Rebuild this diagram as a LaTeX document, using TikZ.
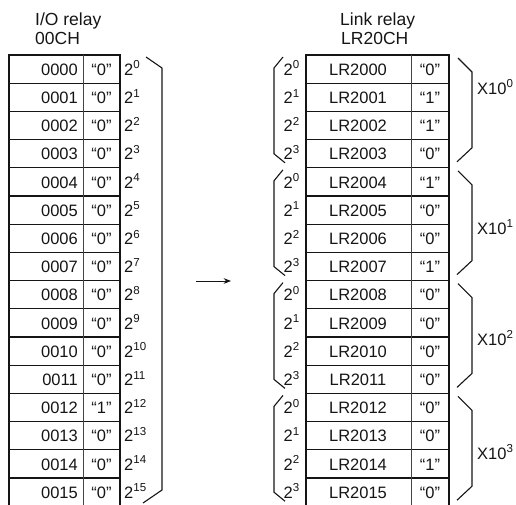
\documentclass[tikz,border=0pt]{standalone}
\usepackage{fontspec}
\setmainfont{Liberation Sans}
\usepackage{tikz}
\usetikzlibrary{arrows.meta,positioning}
\definecolor{rink}{HTML}{151515}
\tikzset{
  >={Stealth[length=2.6mm,width=2mm]},
  rgrid/.style={draw=rink, line width=1.3pt},
  rsep/.style={draw=rink!80, line width=0.9pt},
  redge/.style={draw=rink, line width=2pt},
  rbrace/.style={draw=rink, line width=1.1pt, line join=miter},
  rmap/.style={->, rink, line width=0.9pt},
  rcell/.style={rink, inner sep=0pt, font=\fontsize{16.5}{18}\selectfont},
  rtitle/.style={rink, inner sep=0pt, font=\fontsize{17.5}{19}\selectfont},
}

\begin{document}
\begin{tikzpicture}[x=1pt,y=-1pt]
  \useasboundingbox (0,0) rectangle (516,504);

  \node[rtitle, anchor=base west] (iotitle) at (35,25.5) {I/O relay};
  \node[rtitle, anchor=base west] (iochan) at (35,44) {00CH};
  \node[rtitle, anchor=base west] (lrtitle) at (340,25.5) {Link relay};
  \node[rtitle, anchor=base west] (lrchan) at (341,44) {LR20CH};

  \draw[rgrid] (9,55) rectangle (120,506);
  \foreach \i in {1,...,15}
    \draw[rgrid] (9,{55+28.2*\i}) -- (120,{55+28.2*\i});
  \draw[rsep] (83,55) -- (83,506);
  \draw[redge] (120,55) -- (120,506);

  \foreach \i/\v in {0/0,1/0,2/0,3/0,4/0,5/0,6/0,7/0,8/0,9/0,10/0,11/0,12/1,13/0,14/0,15/0}
  {
    \pgfmathsetmacro\yb{75.2+28.2*\i}
    \node[rcell, anchor=base east] (io\i) at (78,\yb) {\ifnum\i<10 000\i\else 00\i\fi};
    \node[rcell, anchor=base] (iov\i) at (101.5,\yb) {``\v''};
    \node[rcell, anchor=base west] (ioe\i) at (124,\yb) {2\textsuperscript{\i}};
  }
  \draw[rbrace] (146,57) -- (162,68) -- (162,490) -- (143,503);

  \coordinate (mapfrom) at (196,281);
  \coordinate (mapto) at (231,281);
  \draw[rmap] (mapfrom) -- (mapto);

  \draw[rgrid] (306,55) rectangle (449,506);
  \foreach \i in {1,...,15}
    \draw[rgrid] (306,{55+28.2*\i}) -- (449,{55+28.2*\i});
  \draw[rsep] (411,55) -- (411,506);

  \foreach \i/\v in {0/0,1/1,2/1,3/0,4/1,5/0,6/0,7/1,8/0,9/0,10/0,11/0,12/0,13/0,14/1,15/0}
  {
    \pgfmathsetmacro\yb{75.2+28.2*\i}
    \pgfmathtruncatemacro\e{mod(\i,4)}
    \node[rcell, anchor=base] (lr\i) at (358,\yb) {LR20\ifnum\i<10 0\fi\i};
    \node[rcell, anchor=base] (lrv\i) at (430,\yb) {``\v''};
    \node[rcell, anchor=base east] (lre\i) at (300,\yb) {2\textsuperscript{\e}};
  }

  \foreach \g/\ym in {0/87,1/227,2/338,3/452}
  {
    \pgfmathsetmacro\yt{55+112.8*\g}
    \pgfmathsetmacro\ye{\yt+112.8}
    \draw[rbrace] (283,\yt+2) -- (274,\yt+13) -- (274,\ye-14) -- (285,\ye-5);
    \draw[rbrace] (458,\yt+3) -- (472,\yt+17) -- (472,\ye-20) -- (457,\ye-6);
    \node[rcell, anchor=west] (mul\g) at (477,\ym) {X10\textsuperscript{\g}};
  }

\end{tikzpicture}
\end{document}
